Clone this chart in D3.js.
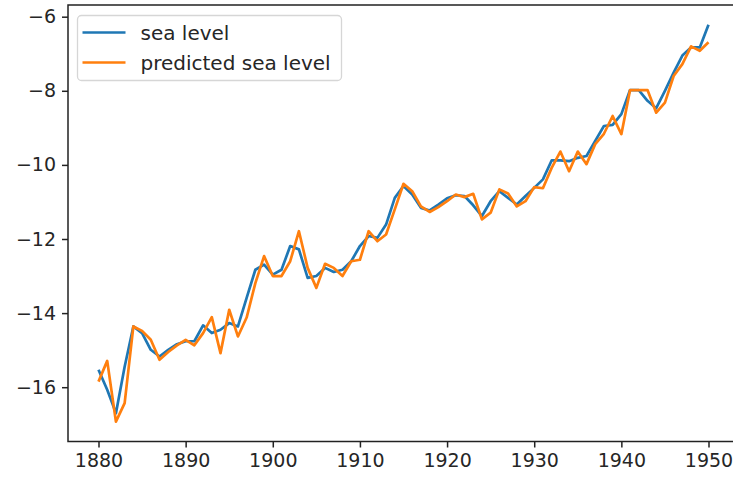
<!DOCTYPE html>
<html>
<head>
<meta charset="utf-8">
<script src="https://cdn.jsdelivr.net/npm/d3@7/dist/d3.min.js"></script>
<style>
  html, body { margin: 0; padding: 0; background: #fff; }
  svg { display: block; font-family: "DejaVu Sans", sans-serif; }
</style>
</head>
<body>
<svg id="chart" width="733" height="480"></svg>
<script>
// Annual sea level, 1880–1950, observed and model prediction
const years = d3.range(1880, 1951);

const seaLevel = [
  -15.53, -16.07, -16.70, -15.45, -14.36, -14.54, -14.99, -15.17, -14.99, -14.84,
  -14.76, -14.76, -14.33, -14.54, -14.45, -14.27, -14.36, -13.59, -12.83, -12.69,
  -12.96, -12.83, -12.19, -12.28, -13.05, -13.00, -12.78, -12.89, -12.83, -12.60,
  -12.19, -11.92, -11.97, -11.61, -10.89, -10.57, -10.80, -11.16, -11.23, -11.07,
  -10.90, -10.82, -10.84, -11.09, -11.38, -10.98, -10.71, -10.89, -11.07, -10.84,
  -10.62, -10.39, -9.88, -9.88, -9.90, -9.81, -9.76, -9.35, -8.95, -8.92,
  -8.63, -7.98, -7.98, -8.27, -8.47, -8.00, -7.51, -7.05, -6.83, -6.83,
  -6.22
];

const predictedSeaLevel = [
  -15.85, -15.29, -16.93, -16.43, -14.36, -14.48, -14.72, -15.26, -15.05, -14.87,
  -14.72, -14.87, -14.54, -14.11, -15.08, -13.91, -14.63, -14.12, -13.19, -12.46,
  -13.00, -13.00, -12.60, -11.79, -12.78, -13.32, -12.67, -12.78, -13.00, -12.60,
  -12.56, -11.79, -12.06, -11.88, -11.20, -10.51, -10.71, -11.12, -11.27, -11.14,
  -10.98, -10.80, -10.87, -10.78, -11.47, -11.29, -10.66, -10.77, -11.12, -10.98,
  -10.60, -10.63, -10.08, -9.64, -10.17, -9.64, -9.98, -9.44, -9.16, -8.68,
  -9.17, -7.98, -7.98, -7.98, -8.59, -8.32, -7.60, -7.28, -6.80, -6.92,
  -6.69
];

const xTicks = [1880, 1890, 1900, 1910, 1920, 1930, 1940, 1950];
const yTicks = [-16, -14, -12, -10, -8, -6];

const seriesNames = ["sea level", "predicted sea level"];
const seriesColors = ["#1f77b4", "#ff7f0e"];

// plot frame
const plot = { left: 68, right: 739, top: 5, bottom: 441.5 };
const fontPx = 19;

const svg = d3.select("#chart");

// 5% padding around the data range, matplotlib-style
const xExt = d3.extent(years);
const xPad = (xExt[1] - xExt[0]) * 0.05;
const allVals = seaLevel.concat(predictedSeaLevel);
const yExt = d3.extent(allVals);
const yPad = (yExt[1] - yExt[0]) * 0.05;

const x = d3.scaleLinear()
  .domain([xExt[0] - xPad, xExt[1] + xPad])
  .range([plot.left, plot.right]);

const y = d3.scaleLinear()
  .domain([yExt[0] - yPad, yExt[1] + yPad])
  .range([plot.bottom, plot.top]);

const minus = s => String(s).replace("-", "\u2212");

// clip lines to the frame
svg.append("defs").append("clipPath").attr("id", "clip")
  .append("rect")
  .attr("x", plot.left).attr("y", plot.top)
  .attr("width", plot.right - plot.left).attr("height", plot.bottom - plot.top);

// series
const line = d3.line().x((d, i) => x(years[i])).y(d => y(d));
const g = svg.append("g").attr("clip-path", "url(#clip)");
[seaLevel, predictedSeaLevel].forEach((vals, k) => {
  g.append("path")
    .datum(vals)
    .attr("d", line)
    .attr("fill", "none")
    .attr("stroke", seriesColors[k])
    .attr("stroke-width", 2.7)
    .attr("stroke-linejoin", "round")
    .attr("stroke-linecap", "butt");
});

// axes
const xAxis = d3.axisBottom(x).tickValues(xTicks).tickFormat(d3.format("d"))
  .tickSizeInner(6).tickSizeOuter(0).tickPadding(6);
const yAxis = d3.axisLeft(y).tickValues(yTicks).tickFormat(d => minus(d))
  .tickSizeInner(6).tickSizeOuter(0).tickPadding(6);

const gx = svg.append("g").attr("transform", `translate(0,${plot.bottom})`).call(xAxis);
const gy = svg.append("g").attr("transform", `translate(${plot.left},0)`).call(yAxis);
[gx, gy].forEach(a => {
  a.select(".domain").remove();
  a.selectAll(".tick line").attr("stroke", "#222").attr("stroke-width", 1.5);
  a.selectAll(".tick text")
    .attr("fill", "#262626")
    .style("font-family", "'DejaVu Sans', sans-serif")
    .style("font-size", fontPx + "px");
});

// frame
svg.append("rect")
  .attr("x", plot.left).attr("y", plot.top)
  .attr("width", plot.right - plot.left).attr("height", plot.bottom - plot.top)
  .attr("fill", "none").attr("stroke", "#222").attr("stroke-width", 1.5);

// legend
const legend = svg.append("g").attr("transform", "translate(77.5,15.5)");
legend.append("rect")
  .attr("width", 264).attr("height", 65)
  .attr("rx", 4).attr("ry", 4)
  .attr("fill", "#fff").attr("fill-opacity", 0.8)
  .attr("stroke", "#d6d6d6").attr("stroke-width", 1.3);
seriesNames.forEach((name, k) => {
  const row = legend.append("g").attr("transform", `translate(0,${17 + k * 30})`);
  row.append("line")
    .attr("x1", 5).attr("x2", 48).attr("y1", 0).attr("y2", 0)
    .attr("stroke", seriesColors[k]).attr("stroke-width", 2.7);
  row.append("text")
    .attr("x", 63).attr("y", 0).attr("dy", "0.35em")
    .attr("fill", "#262626")
    .style("font-size", "20px")
    .text(name);
});
</script>
</body>
</html>
